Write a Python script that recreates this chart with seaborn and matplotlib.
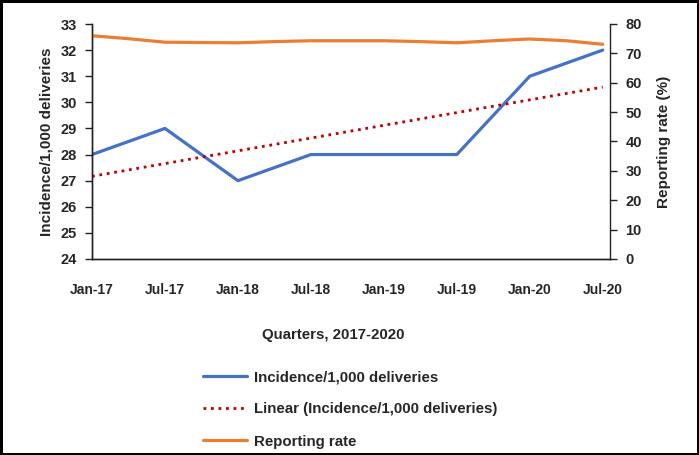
import matplotlib
matplotlib.use("Agg")
import matplotlib.pyplot as plt
import seaborn as sns
import numpy as np

# ---- data ----
tick_labels = ["Jan-17", "Jul-17", "Jan-18", "Jul-18", "Jan-19", "Jul-19", "Jan-20", "Jul-20"]
tick_pos = [0, 2, 4, 6, 8, 10, 12, 14]          # quarter index
incidence_x = [0, 2, 4, 6, 8, 10, 12, 14]
incidence = [28, 29, 27, 28, 28, 28, 31, 32]
reporting_x = list(range(15))
reporting = [76.0, 75.0, 73.8, 73.7, 73.6, 74.0, 74.3, 74.3, 74.3, 74.0, 73.6, 74.3, 74.9, 74.3, 73.1]

sns.set_theme(style="white")
plt.rcParams["font.family"] = ["Liberation Sans", "DejaVu Sans"]
plt.rcParams["font.weight"] = "bold"
plt.rcParams["axes.labelweight"] = "bold"
plt.rcParams["font.size"] = 10.5

fig = plt.figure(figsize=(6.99, 4.55), dpi=100, linewidth=2.5, edgecolor="black")
ax = fig.add_axes([92/699, 1-259/455, (610-92)/699, (259-24)/455])
ax2 = ax.twinx()

blue = "#4472C4"
orange = "#ED7D31"
red = "#C00000"

sns.lineplot(x=incidence_x, y=incidence, ax=ax, color=blue, lw=2.3,
             label="Incidence/1,000 deliveries", legend=False)
sns.regplot(x=np.array(incidence_x), y=np.array(incidence), ax=ax, scatter=False, ci=None,
            truncate=True, label="Linear (Incidence/1,000 deliveries)",
            line_kws=dict(color=red, lw=2.0, linestyle=(0, (1, 1.7))))
sns.lineplot(x=reporting_x, y=reporting, ax=ax2, color=orange, lw=2.3,
             label="Reporting rate", legend=False)

ax.set_xlim(0, 14.2)
ax.set_ylim(24, 33)
ax.set_yticks(range(24, 34))
ax2.set_ylim(0, 80)
ax2.set_yticks(range(0, 81, 10))
ax.set_xticks(tick_pos)
ax.set_xticklabels(tick_labels)

ax.set_xlabel("")
ax.set_ylabel("Incidence/1,000 deliveries", fontsize=11, fontweight="bold", labelpad=5)
ax2.set_ylabel("Reporting rate (%)", fontsize=11, fontweight="bold", labelpad=11)

for a in (ax, ax2):
    for s in a.spines.values():
        s.set_color("#222222")
        s.set_linewidth(1.0)
    a.spines["top"].set_visible(False)
    a.tick_params(direction="out", length=5, width=1, color="#222222", labelsize=10.5)
ax.tick_params(axis="x", pad=12, labelsize=10)
ax.tick_params(axis="y", pad=6)
ax2.tick_params(axis="y", pad=6)
ax.spines["right"].set_visible(False)
ax.set_facecolor("none")
ax2.set_facecolor("none")
ax.grid(False)
ax2.grid(False)

fig.text(333/699, 1-335/455, "Quarters, 2017-2020", ha="center", va="center",
         fontsize=10.8, fontweight="bold")

h1, l1 = ax.get_legend_handles_labels()
h2, l2 = ax2.get_legend_handles_labels()
fig.legend(h1 + h2, l1 + l2, loc="upper left", bbox_to_anchor=(203/699, 1-370/455),
           frameon=False, handlelength=2.9, handletextpad=0.5, labelspacing=1.22,
           fontsize=10.8, borderaxespad=0, borderpad=0)

fig.savefig("out.png", dpi=100)
